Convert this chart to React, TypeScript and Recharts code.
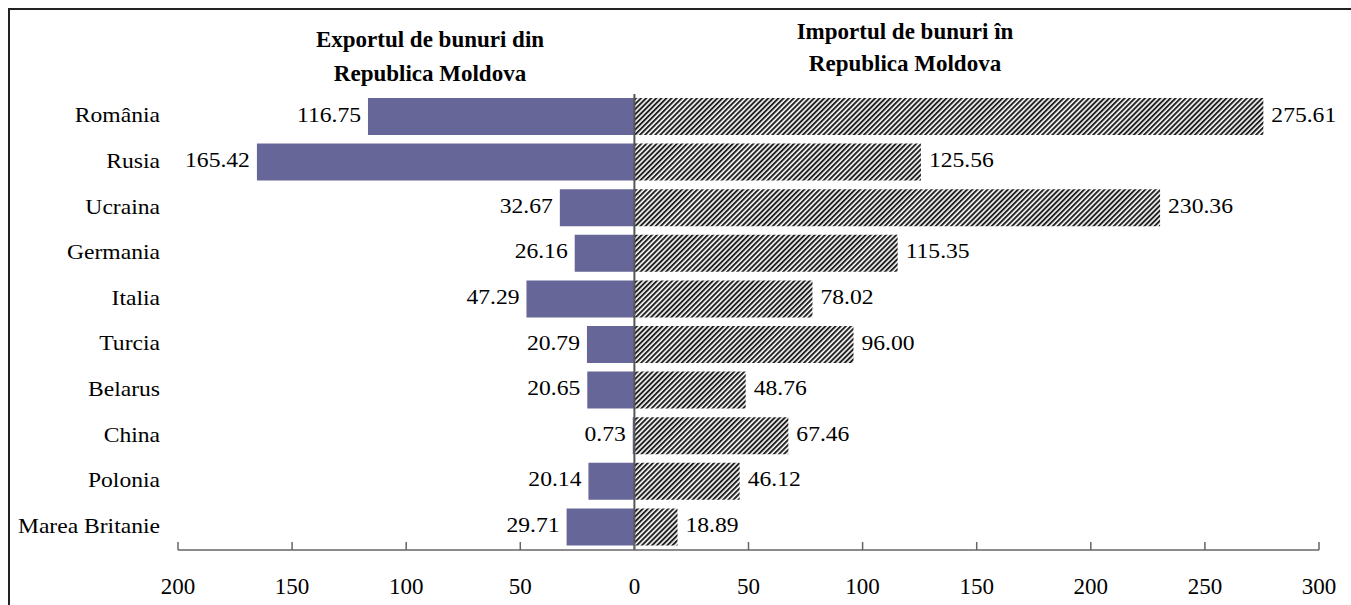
import React from 'react';
import { BarChart, Bar, XAxis, YAxis, ReferenceLine, LabelList } from 'recharts';

const categories = ['România', 'Rusia', 'Ucraina', 'Germania', 'Italia', 'Turcia', 'Belarus', 'China', 'Polonia', 'Marea Britanie'];
const exportValues = [116.75, 165.42, 32.67, 26.16, 47.29, 20.79, 20.65, 0.73, 20.14, 29.71];
const importValues = [275.61, 125.56, 230.36, 115.35, 78.02, 96.0, 48.76, 67.46, 46.12, 18.89];
const xTicks = [-200, -150, -100, -50, 0, 50, 100, 150, 200, 250, 300];
const exportTitle = ['Exportul de bunuri din', 'Republica Moldova'];
const importTitle = ['Importul de bunuri în', 'Republica Moldova'];

const data = categories.map((c, i) => ({ name: c, exp: -exportValues[i], imp: importValues[i] }));

const FONT = "'Liberation Serif', 'Times New Roman', serif";
const SX = 1.18;

const XTick = (props: any) => {
  const { x, y, payload } = props;
  return (
    <g>
      <line x1={x} x2={x} y1={y - 8} y2={y} stroke="#666" strokeWidth={1.5} />
      <text x={x} y={y + 37} dy="0.32em" textAnchor="middle" fontSize={23} fontFamily={FONT} fill="#000">
        {Math.abs(payload.value)}
      </text>
    </g>
  );
};

const YTick = (props: any) => {
  const { x, y, payload } = props;
  return (
    <text
      transform={`translate(${x - 18},${y}) scale(${SX},1)`}
      x={0}
      y={0}
      dy="0.28em"
      textAnchor="end"
      fontSize={20}
      fontFamily={FONT}
      fill="#000"
    >
      {payload.value}
    </text>
  );
};

const makeLabel = (side: 'left' | 'right') => (props: any) => {
  const vb = props.viewBox || {};
  const x = props.x ?? vb.x;
  const y = props.y ?? vb.y;
  const w = props.width ?? vb.width;
  const h = props.height ?? vb.height;
  const v = props.value;
  if (x == null || v == null) return null;
  const left = Math.min(x, x + w);
  const right = Math.max(x, x + w);
  const cy = y + h / 2;
  const tx = side === 'left' ? left - 7 : right + 8;
  return (
    <text
      transform={`translate(${tx},${cy}) scale(${SX},1)`}
      x={0}
      y={0}
      dy="0.25em"
      textAnchor={side === 'left' ? 'end' : 'start'}
      fontSize={20}
      fontFamily={FONT}
      fill="#000"
    >
      {Math.abs(Number(v)).toFixed(2)}
    </text>
  );
};

const ExpLabel = makeLabel('left');
const ImpLabel = makeLabel('right');

export default function App() {
  return (
    <div
      style={{
        position: 'fixed',
        left: 8,
        top: 8,
        width: 1343,
        height: 597,
        borderTop: '2px solid #222',
        borderLeft: '2px solid #222',
        boxSizing: 'border-box',
        background: '#fff',
      }}
    >
      <BarChart
        width={1341}
        height={595}
        data={data}
        layout="vertical"
        stackOffset="sign"
        margin={{ top: 84, right: 32, bottom: 10, left: 8 }}
      >
        <defs>
          <pattern id="hatch" patternUnits="userSpaceOnUse" width={3.6} height={3.6} patternTransform="rotate(45)">
            <rect x={0} y={0} width={3.6} height={3.6} fill="#fff" />
            <rect x={0} y={0} width={2.0} height={3.6} fill="#222" />
          </pattern>
        </defs>
        <XAxis
          type="number"
          domain={[-200, 300]}
          ticks={xTicks}
          interval={0}
          height={45}
          tickSize={0}
          tickMargin={0}
          tick={<XTick />}
          tickLine={false}
          axisLine={{ stroke: '#666', strokeWidth: 1.5 }}
          allowDataOverflow
        />
        <YAxis
          type="category"
          dataKey="name"
          width={160}
          tickSize={0}
          tickMargin={0}
          tick={<YTick />}
          tickLine={false}
          axisLine={false}
          interval={0}
        />
        <Bar dataKey="exp" stackId="a" fill="#666699" barSize={37} isAnimationActive={false}>
          <LabelList dataKey="exp" content={ExpLabel} />
        </Bar>
        <Bar dataKey="imp" stackId="a" fill="url(#hatch)" barSize={37} isAnimationActive={false}>
          <LabelList dataKey="imp" content={ImpLabel} />
        </Bar>
        <ReferenceLine x={0} stroke="#555" strokeWidth={2} />
      </BarChart>
      <svg
        width={1341}
        height={595}
        style={{ position: 'absolute', left: 0, top: 0, pointerEvents: 'none' }}
      >
        {exportTitle.map((t, i) => (
          <text key={'e' + i} x={420} y={37 + i * 34} textAnchor="middle" fontSize={23} fontWeight="bold" fontFamily={FONT} fill="#000">
            {t}
          </text>
        ))}
        {importTitle.map((t, i) => (
          <text key={'i' + i} x={895} y={29 + i * 32} textAnchor="middle" fontSize={23} fontWeight="bold" fontFamily={FONT} fill="#000">
            {t}
          </text>
        ))}
      </svg>
    </div>
  );
}
